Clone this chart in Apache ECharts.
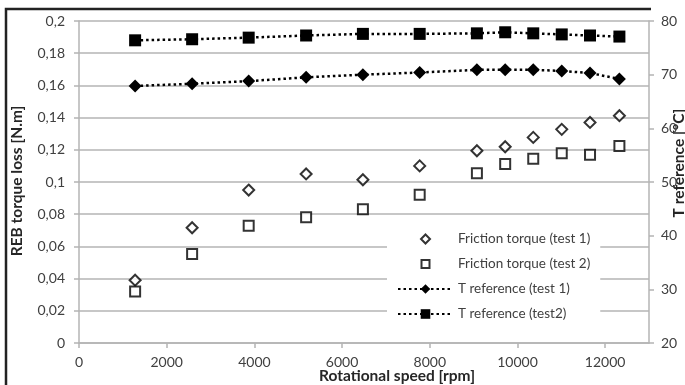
<!DOCTYPE html>
<html>
<head>
<meta charset="utf-8">
<script src="https://cdn.jsdelivr.net/npm/echarts@6/dist/echarts.min.js"></script>
<style>
  html, body { margin: 0; padding: 0; background: #fff; }
  #chart { width: 685px; height: 385px; }
</style>
</head>
<body>
<div id="chart"></div>
<script>
// rotational speed [rpm]
const speeds = [1280, 2580, 3870, 5180, 6475, 7770, 9075, 9720, 10360, 11010, 11655, 12325];
// REB torque loss [N.m]
const frictionTest1 = [0.039, 0.0716, 0.095, 0.105, 0.1014, 0.110, 0.1194, 0.1219, 0.1277, 0.1327, 0.137, 0.1412];
const frictionTest2 = [0.032, 0.0553, 0.0729, 0.0781, 0.083, 0.0921, 0.1054, 0.1112, 0.1145, 0.1178, 0.117, 0.1224];
// T reference [°C]
const tRefTest1 = [67.9, 68.3, 68.8, 69.5, 70.0, 70.4, 70.9, 70.9, 70.9, 70.7, 70.3, 69.2];
const tRefTest2 = [76.4, 76.6, 76.9, 77.3, 77.6, 77.6, 77.7, 77.9, 77.7, 77.5, 77.3, 77.1];

const pairs = ys => speeds.map((x, i) => [x, ys[i]]);
const font = 'Lato';
const gridColor = '#b4b4b4';
const labelColor = '#404040';

// legend icons keep a small marker in the middle of the 55x12 icon box
const diamondIcon = 'path://M0,0M55,12M27.5,1.5L32,6L27.5,10.5L23,6Z';
const squareIcon = 'path://M0,0M55,12M23.5,2L31.5,2L31.5,10L23.5,10Z';

const chart = echarts.init(document.getElementById('chart'));

const option = {
  animation: false,
  backgroundColor: '#fff',
  textStyle: { fontFamily: font },
  grid: { left: 79, right: 36, top: 21, bottom: 42 },
  xAxis: {
    type: 'value',
    min: 0,
    max: 13000,
    interval: 2000,
    axisLine: { lineStyle: { color: gridColor, width: 1.5 } },
    axisTick: { show: true, length: 5, lineStyle: { color: gridColor, width: 1.5 } },
    axisLabel: {
      color: labelColor, fontSize: 14, margin: 12, showMaxLabel: false,
      formatter: v => String(v)
    },
    splitLine: { show: false }
  },
  yAxis: [
    {
      type: 'value',
      min: 0,
      max: 0.2,
      interval: 0.02,
      axisLine: { show: true, lineStyle: { color: gridColor, width: 1.5 } },
      axisTick: { show: true, length: 5, lineStyle: { color: gridColor, width: 1.5 } },
      axisLabel: {
        color: labelColor, fontSize: 14, margin: 14,
        formatter: v => String(+v.toFixed(2)).replace('.', ',')
      },
      splitLine: { show: true, lineStyle: { color: gridColor, width: 1.5 } }
    },
    {
      type: 'value',
      position: 'right',
      min: 20,
      max: 80,
      interval: 10,
      axisLine: { show: true, lineStyle: { color: gridColor, width: 1.5 } },
      axisTick: { show: true, length: 5, lineStyle: { color: gridColor, width: 1.5 } },
      axisLabel: { color: labelColor, fontSize: 14, margin: 12 },
      splitLine: { show: false }
    }
  ],
  legend: {
    orient: 'vertical',
    left: 387,
    top: 226,
    padding: [5, 10, 5, 10],
    backgroundColor: '#fff',
    itemWidth: 55,
    itemHeight: 12,
    itemGap: 9,
    textStyle: { fontFamily: font, fontSize: 13.5, color: labelColor, lineHeight: 16 },
    data: [
      { name: 'Friction torque (test 1)', icon: diamondIcon },
      { name: 'Friction torque (test 2)', icon: squareIcon },
      'T reference (test 1)',
      'T reference (test2)'
    ]
  },
  series: [
    {
      name: 'Friction torque (test 1)',
      type: 'scatter',
      symbol: 'diamond',
      symbolSize: 11,
      itemStyle: { color: '#fff', borderColor: '#000', borderWidth: 2 },
      data: pairs(frictionTest1)
    },
    {
      name: 'Friction torque (test 2)',
      type: 'scatter',
      symbol: 'rect',
      symbolSize: 10,
      itemStyle: { color: '#fff', borderColor: '#000', borderWidth: 2 },
      data: pairs(frictionTest2)
    },
    {
      name: 'T reference (test 1)',
      type: 'line',
      yAxisIndex: 1,
      symbol: 'diamond',
      symbolSize: 13,
      showSymbol: true,
      itemStyle: { color: '#000' },
      lineStyle: { color: '#000', width: 2.5, type: [2.5, 3] },
      data: pairs(tRefTest1)
    },
    {
      name: 'T reference (test2)',
      type: 'line',
      yAxisIndex: 1,
      symbol: 'rect',
      symbolSize: 12,
      showSymbol: true,
      itemStyle: { color: '#000' },
      lineStyle: { color: '#000', width: 2.5, type: [2.5, 3] },
      data: pairs(tRefTest2)
    }
  ],
  graphic: [
    {
      type: 'polyline',
      shape: { points: [[6, 386], [6, 9], [651, 9]] },
      style: { stroke: '#222', lineWidth: 2.5, fill: null },
      silent: true
    },
    {
      type: 'text',
      x: 17, y: 181,
      rotation: Math.PI / 2,
      style: {
        text: 'REB torque loss [N.m]', fontFamily: font, fontSize: 15.5, fontWeight: 'bold',
        fill: '#262626', align: 'center', verticalAlign: 'middle'
      }
    },
    {
      type: 'text',
      x: 679, y: 163,
      rotation: Math.PI / 2,
      style: {
        text: 'T reference [°C]', fontFamily: font, fontSize: 15.5, fontWeight: 'bold',
        fill: '#262626', align: 'center', verticalAlign: 'middle'
      }
    },
    {
      type: 'text',
      x: 397, y: 376,
      style: {
        text: 'Rotational speed [rpm]', fontFamily: font, fontSize: 15.5, fontWeight: 'bold',
        fill: '#262626', align: 'center', verticalAlign: 'middle'
      }
    }
  ]
};

chart.setOption(option);
</script>
</body>
</html>
